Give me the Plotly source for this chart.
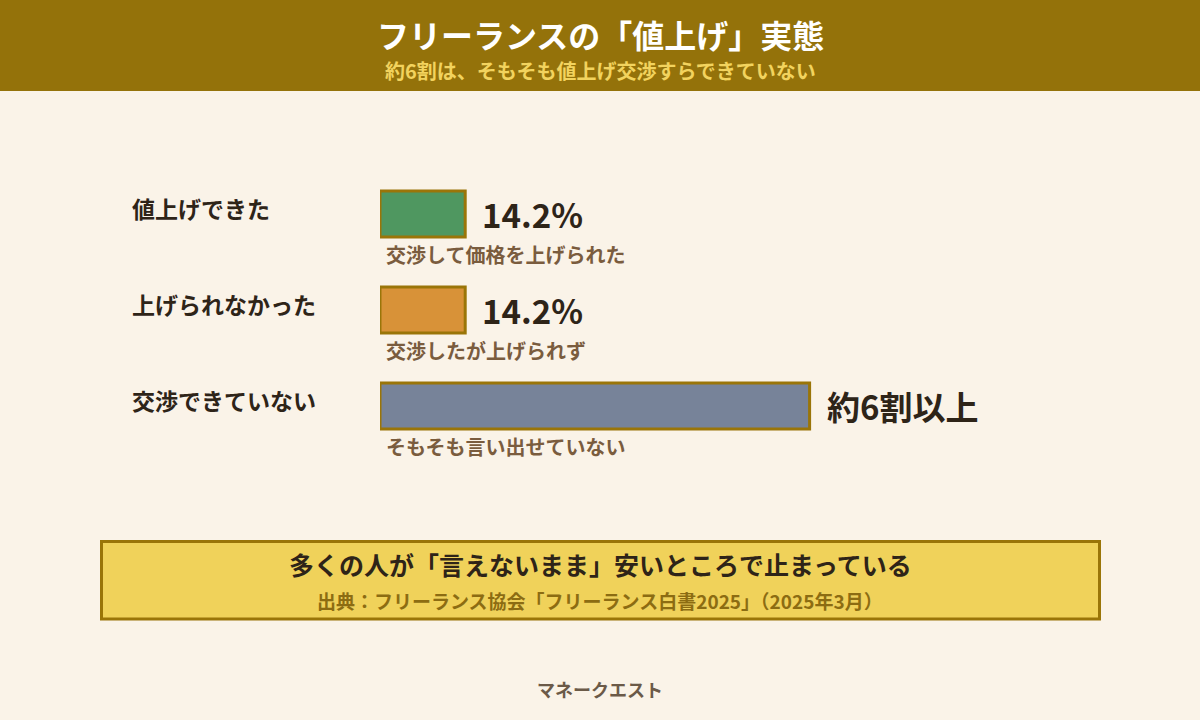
import plotly.graph_objects as go

# データ（フリーランス白書2025より読み取り）
categories = ["値上げできた", "上げられなかった", "交渉できていない"]
values = [14.2, 14.2, 71.6]
value_labels = ["14.2%", "14.2%", "約6割以上"]
notes = ["交渉して価格を上げられた", "交渉したが上げられず", "そもそも言い出せていない"]
bar_colors = ["#4F9760", "#D89238", "#778399"]

title = "フリーランスの「値上げ」実態"
subtitle = "約6割は、そもそも値上げ交渉すらできていない"
message = "多くの人が「言えないまま」安いところで止まっている"
source = "出典：フリーランス協会「フリーランス白書2025」（2025年3月）"
brand = "マネークエスト"

FONT = "Noto Sans CJK JP"
GOLD = "#94720A"
BG = "#FAF3E8"

W, H = 1200, 720
L, R, T, B = 380, 220, 166, 266
pw, ph = W - L - R, H - T - B


def px(x):
    return (x - L) / pw


def py(y):
    return (H - B - y) / ph


fig = go.Figure()
fig.add_trace(go.Bar(
    x=values, y=categories, orientation="h",
    width=0.48,
    marker=dict(color=bar_colors, line=dict(color="#9A7508", width=3)),
    hoverinfo="skip",
))

ann = []
for cat, val, lab, note in zip(categories, values, value_labels, notes):
    ann.append(dict(x=px(130), xref="paper", y=cat, yref="y", text=cat,
                    xanchor="left", yanchor="middle", yshift=6, showarrow=False,
                    font=dict(family=FONT, size=23, color="#2E2418", weight="bold")))
    ann.append(dict(x=val, xref="x", y=cat, yref="y", text=lab,
                    xanchor="left", yanchor="middle", xshift=15, showarrow=False,
                    font=dict(family=FONT, size=33, color="#2E2418", weight="bold")))
    ann.append(dict(x=0, xref="x", y=cat, yref="y", text=note,
                    xanchor="left", yanchor="middle", xshift=4, yshift=-40,
                    showarrow=False,
                    font=dict(family=FONT, size=20, color="#7A5C3E", weight="bold")))

ann += [
    dict(x=px(600), xref="paper", y=py(34), yref="paper", text=title,
         xanchor="center", yanchor="middle", showarrow=False,
         font=dict(family=FONT, size=32, color="white", weight="bold")),
    dict(x=px(600), xref="paper", y=py(71), yref="paper", text=subtitle,
         xanchor="center", yanchor="middle", showarrow=False,
         font=dict(family=FONT, size=20, color="#F2D35E", weight="bold")),
    dict(x=px(600), xref="paper", y=py(564), yref="paper", text=message,
         xanchor="center", yanchor="middle", showarrow=False,
         font=dict(family=FONT, size=25, color="#2E2418", weight="bold")),
    dict(x=px(600), xref="paper", y=py(600), yref="paper", text=source,
         xanchor="center", yanchor="middle", showarrow=False,
         font=dict(family=FONT, size=19, color="#8C6C12", weight="bold")),
    dict(x=px(600), xref="paper", y=py(689), yref="paper", text=brand,
         xanchor="center", yanchor="middle", showarrow=False,
         font=dict(family=FONT, size=18, color="#6B5A48", weight="bold")),
]

shapes = [
    dict(type="rect", xref="paper", yref="paper", x0=px(0), x1=px(W), y0=py(0), y1=py(91),
         fillcolor=GOLD, line=dict(width=0), layer="below"),
    dict(type="rect", xref="paper", yref="paper", x0=px(101.5), x1=px(1099.5),
         y0=py(541.5), y1=py(619), fillcolor="#F0D25A",
         line=dict(color="#9A7508", width=3), layer="below"),
]

fig.update_layout(
    width=W, height=H,
    margin=dict(l=L, r=R, t=T, b=B),
    paper_bgcolor=BG, plot_bgcolor=BG,
    showlegend=False,
    xaxis=dict(range=[0, 100], visible=False, fixedrange=True),
    yaxis=dict(type="category", range=[2.5, -0.5], visible=False, fixedrange=True,
               categoryorder="array", categoryarray=categories),
    annotations=ann,
    shapes=shapes,
    font=dict(family=FONT),
)

# ページ既定の余白を消す
fig.write_html("out.html", config={"displayModeBar": False},
               post_script="document.body.style.margin='0';")
